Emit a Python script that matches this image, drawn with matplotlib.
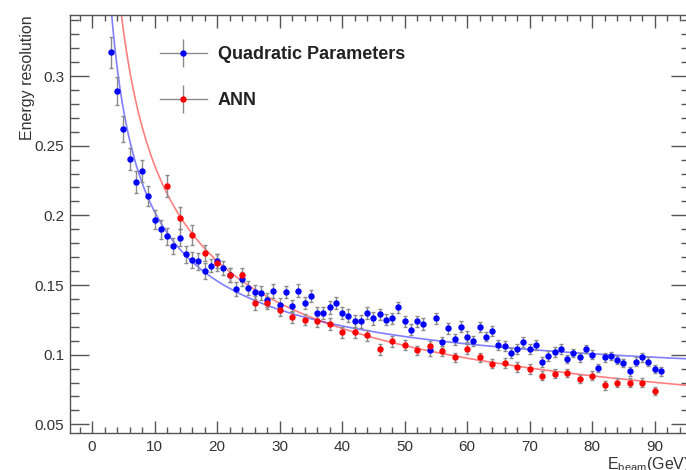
import numpy as np
import matplotlib
matplotlib.use('Agg')
import matplotlib.pyplot as plt
from matplotlib.lines import Line2D
from matplotlib.legend_handler import HandlerTuple
from matplotlib.ticker import MultipleLocator

plt.rcParams['font.family'] = ['Liberation Sans', 'DejaVu Sans']

# beam energies (GeV)
e_quad = np.arange(3, 92)
e_ann = np.arange(12, 91, 2)

# energy resolution, quadratic parameters
res_quad = [0.317, 0.289, 0.262, 0.2405, 0.224, 0.232, 0.214, 0.197, 0.190, 0.185,
            0.178, 0.184, 0.172, 0.168, 0.167, 0.160, 0.164, 0.167, 0.162, 0.157,
            0.147, 0.154, 0.148, 0.145, 0.144, 0.139, 0.146, 0.136, 0.145, 0.135,
            0.146, 0.137, 0.142, 0.130, 0.130, 0.134, 0.137, 0.130, 0.128, 0.124,
            0.124, 0.130, 0.126, 0.129, 0.125, 0.126, 0.134, 0.124, 0.118, 0.124,
            0.122, 0.103, 0.126, 0.109, 0.119, 0.111, 0.120, 0.113, 0.110, 0.120,
            0.113, 0.117, 0.107, 0.106, 0.101, 0.104, 0.109, 0.104, 0.107, 0.095,
            0.099, 0.102, 0.104, 0.097, 0.101, 0.098, 0.104, 0.100, 0.0905, 0.098,
            0.099, 0.096, 0.094, 0.088, 0.095, 0.098, 0.095, 0.0895, 0.088]
err_quad = [0.011, 0.010, 0.009, 0.008, 0.008, 0.008, 0.007, 0.007, 0.007, 0.006,
            0.006, 0.006, 0.006, 0.006, 0.006, 0.006, 0.005, 0.005, 0.005, 0.005,
            0.005, 0.005, 0.005, 0.005, 0.005, 0.005, 0.005, 0.005, 0.0045, 0.0045,
            0.0045, 0.0045, 0.0045, 0.0045, 0.0045, 0.0045, 0.0045, 0.0045, 0.0045, 0.0045,
            0.0045, 0.0045, 0.0045, 0.004, 0.004, 0.004, 0.004, 0.004, 0.004, 0.004,
            0.004, 0.004, 0.004, 0.004, 0.004, 0.004, 0.004, 0.004, 0.0035, 0.0035,
            0.0035, 0.0035, 0.0035, 0.0035, 0.0035, 0.0035, 0.0035, 0.0035, 0.0035, 0.0035,
            0.0035, 0.0035, 0.0035, 0.003, 0.003, 0.003, 0.003, 0.003, 0.003, 0.003,
            0.003, 0.003, 0.003, 0.003, 0.003, 0.003, 0.003, 0.003, 0.003]

# energy resolution, ANN
res_ann = [0.221, 0.198, 0.186, 0.173, 0.166, 0.157, 0.157, 0.137, 0.137, 0.132,
           0.127, 0.125, 0.124, 0.122, 0.116, 0.116, 0.114, 0.104, 0.1095, 0.107,
           0.103, 0.106, 0.1024, 0.098, 0.104, 0.098, 0.0936, 0.094, 0.091, 0.0895,
           0.085, 0.0864, 0.087, 0.0824, 0.085, 0.078, 0.080, 0.080, 0.080, 0.074]
err_ann = [0.008, 0.008, 0.007, 0.006, 0.006, 0.005, 0.005, 0.005, 0.0045, 0.0045,
           0.004, 0.004, 0.004, 0.004, 0.004, 0.004, 0.004, 0.004, 0.004, 0.0035,
           0.0035, 0.0035, 0.0035, 0.0035, 0.0035, 0.0035, 0.0035, 0.0035, 0.0035, 0.0035,
           0.003, 0.003, 0.003, 0.003, 0.003, 0.003, 0.003, 0.003, 0.003, 0.003]

# fit parameters: sigma/E = sqrt(a^2/E + b^2)
quad_a, quad_b = 0.595, 0.0755
ann_a, ann_b = 0.745, 0.016


def resolution(e, a, b):
    return np.sqrt(a ** 2 / e + b ** 2)


fig = plt.figure(figsize=(6.86, 4.70), dpi=100)
ax = fig.add_axes([70 / 686, 1 - 432.7 / 470, 620 / 686, (432.7 - 15) / 470])

e_fit = np.linspace(1.0, 97.0, 500)
ax.plot(e_fit, resolution(e_fit, quad_a, quad_b), color='blue', alpha=0.5, lw=1.2, zorder=2)
ax.plot(e_fit, resolution(e_fit, ann_a, ann_b), color='red', alpha=0.5, lw=1.2, zorder=2)

ax.errorbar(e_quad, res_quad, yerr=err_quad, fmt='o', ms=3.6, color='blue', mec='blue',
            ecolor='#8a8a8a', elinewidth=1, capsize=1.5, capthick=1, zorder=3)
ax.errorbar(e_ann, res_ann, yerr=err_ann, fmt='o', ms=3.6, color='red', mec='red',
            ecolor='#8a8a8a', elinewidth=1, capsize=1.5, capthick=1, zorder=3)

ax.set_xlim(-3.52, 95.68)
ax.set_ylim(0.044, 0.3438)

ax.xaxis.set_major_locator(MultipleLocator(10))
ax.xaxis.set_minor_locator(MultipleLocator(2))
ax.yaxis.set_major_locator(MultipleLocator(0.05))
ax.yaxis.set_minor_locator(MultipleLocator(0.01))
ax.yaxis.set_major_formatter(plt.FuncFormatter(lambda v, p: f'{v:g}'))

ax.tick_params(axis='both', which='both', direction='in', top=True, right=True,
               labelsize=11, labelcolor='#333333', color='#555555', width=1)
ax.tick_params(axis='x', which='major', length=9, pad=5)
ax.tick_params(axis='x', which='minor', length=4.5)
ax.tick_params(axis='y', which='major', length=13.4, pad=4)
ax.tick_params(axis='y', which='minor', length=6.7)
for sp in ax.spines.values():
    sp.set_color('#555555')
    sp.set_linewidth(1)

ax.set_ylabel('Energy resolution', loc='top', fontsize=11.5, color='#333333', labelpad=0)
ax.set_xlabel(r'E$_{\mathregular{beam}}$(GeV)', loc='right', fontsize=11.5,
              color='#333333', labelpad=1)

# legend entries: horizontal line, vertical error bar and marker drawn on top of each other
bar = dict(ls='none', marker='|', ms=20, mec='#8a8a8a', mew=1)
h_quad = (Line2D([], [], color='#8a8a8a', lw=1), Line2D([], [], **bar),
          Line2D([], [], ls='none', marker='o', ms=3.6, color='blue'))
h_ann = (Line2D([], [], color='#8a8a8a', lw=1), Line2D([], [], **bar),
         Line2D([], [], ls='none', marker='o', ms=3.6, color='red'))
leg = ax.legend([h_quad, h_ann], ['Quadratic Parameters', 'ANN'],
                handler_map={tuple: HandlerTuple(ndivide=1, pad=0)},
                loc='upper left', bbox_to_anchor=(160 / 686, 1 - 46 / 470),
                bbox_transform=fig.transFigure, frameon=False, borderpad=0,
                borderaxespad=0, handlelength=2.6, handletextpad=0.6,
                labelspacing=1.62, prop={'weight': 'bold', 'size': 13})
for t in leg.get_texts():
    t.set_color('#222222')

fig.savefig('out.png', dpi=100)
